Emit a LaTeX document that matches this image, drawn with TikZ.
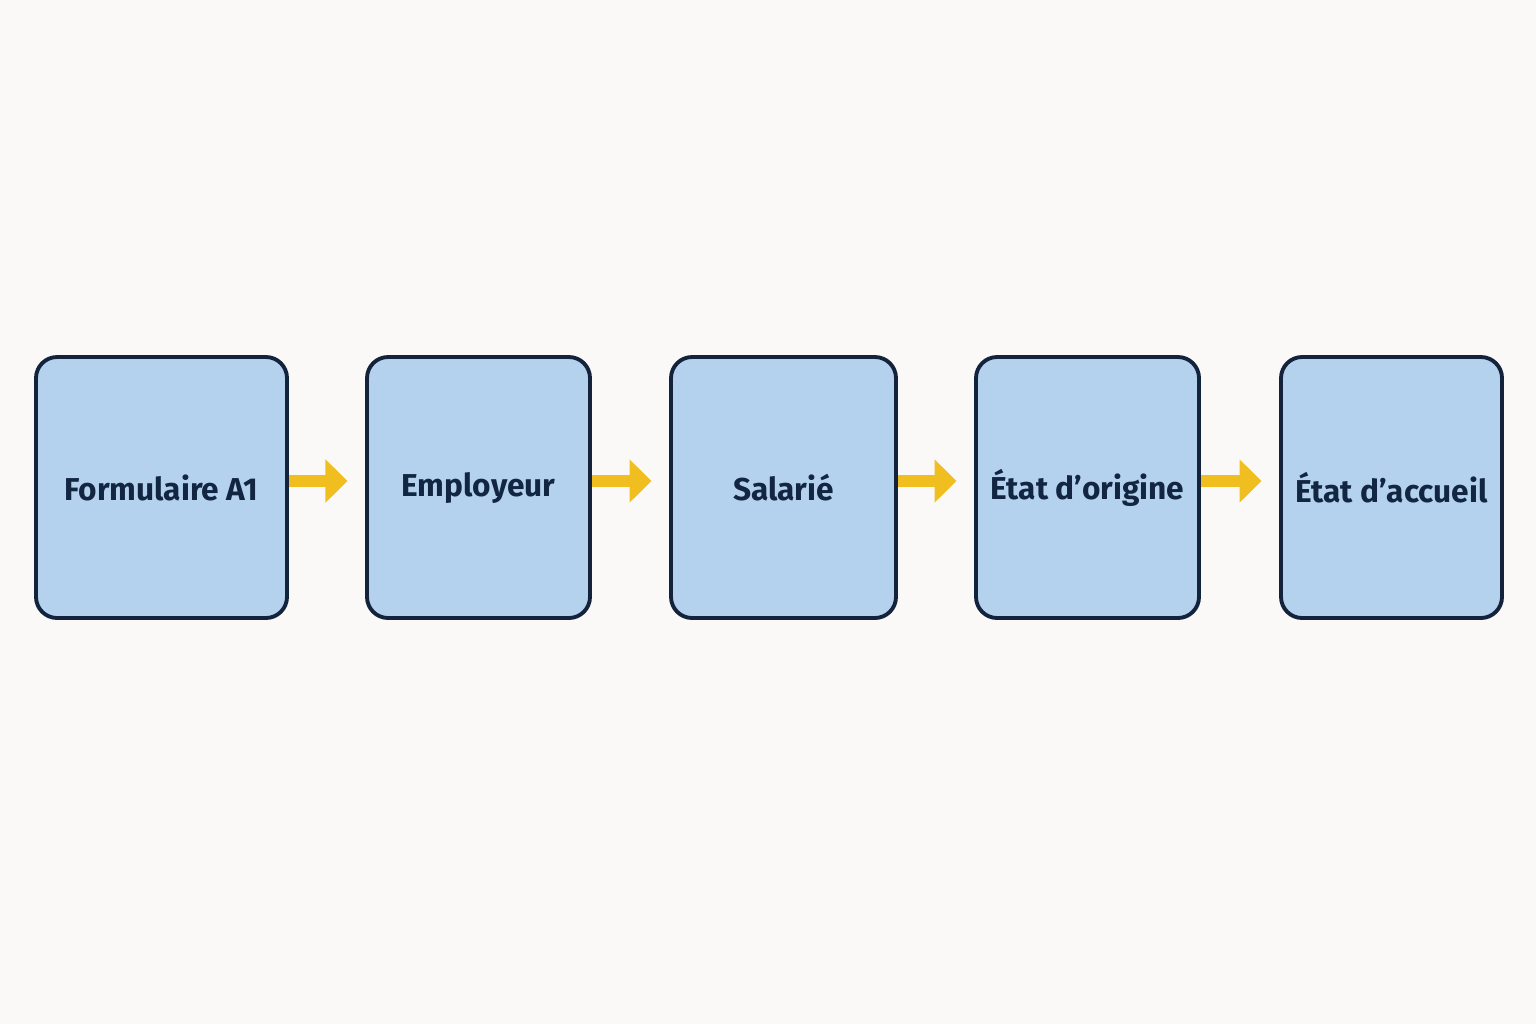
\documentclass[tikz,border=0pt]{standalone}
\usepackage{fontspec}
\setmainfont{Fira Sans}
\definecolor{boxfill}{RGB}{180, 210, 238}
\definecolor{boxline}{RGB}{20, 35, 60}
\definecolor{navytext}{RGB}{18, 38, 66}
\definecolor{flowyellow}{RGB}{240, 190, 30}
\definecolor{paper}{RGB}{250, 249, 247}
\usetikzlibrary{arrows.meta, calc}
\tikzset{
  stepbox/.style={rectangle, draw=boxline, fill=boxfill, rounded corners=6pt, line width=1.1pt,
    minimum width=#1, minimum height=2.61cm, inner sep=0pt, font=\fontsize{9}{11}\selectfont\bfseries, text=navytext},
  flowarrow/.style={draw=flowyellow, line width=3.4pt, -{Triangle[length=0.22cm, width=0.42cm]}, shorten >=5pt},
}
\begin{document}
\begin{tikzpicture}
\fill[paper] (0,0) rectangle (15.36,-10.24);
\useasboundingbox (0,0) rectangle (15.36,-10.24);

% Steps
\node[stepbox=2.51cm] (form) at (1.615,-4.875) {Formulaire A1};
\node[stepbox=2.23cm] (empl) at (4.785,-4.875) {Employeur};
\node[stepbox=2.25cm] (sal) at (7.835,-4.875) {Salarié};
\node[stepbox=2.23cm] (orig) at (10.875,-4.875) {État d’origine};
\node[stepbox=2.21cm] (accu) at (13.915,-4.875) {État d’accueil};

% Flow
\foreach \a/\b in {form/empl, empl/sal, sal/orig, orig/accu}
  \draw[flowarrow] ($(\a.east)+(0,0.065)$) -- ($(\b.west)+(0,0.065)$);
\end{tikzpicture}
\end{document}
